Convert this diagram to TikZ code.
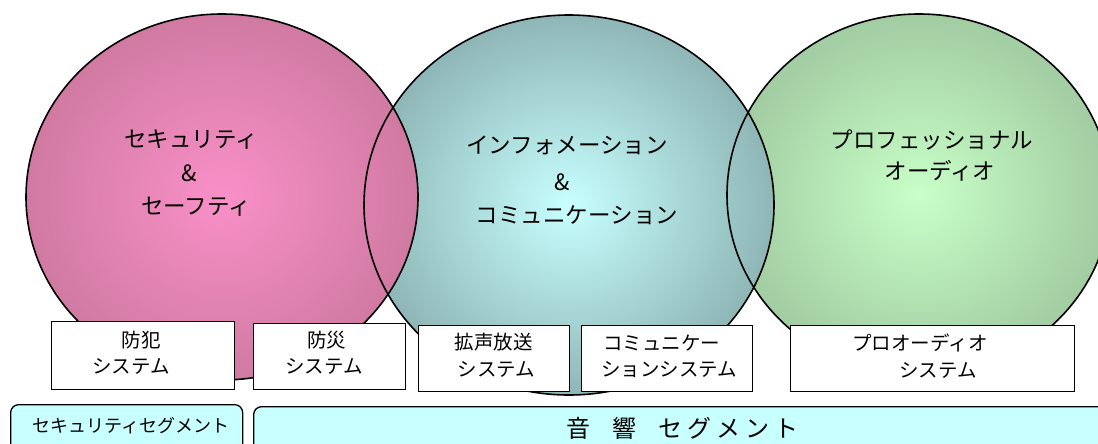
\documentclass[tikz,border=0pt]{standalone}
\usepackage{fontspec}
\setmainfont{Noto Sans CJK JP}
\definecolor{pinkin}{HTML}{F990C8}
\definecolor{pinkout}{HTML}{D07AA2}
\definecolor{tealin}{HTML}{C8FFFF}
\definecolor{tealout}{HTML}{8FB6B6}
\definecolor{greenin}{HTML}{C8FFC8}
\definecolor{greenout}{HTML}{A2CCA2}
\definecolor{segfill}{HTML}{C8FFFF}
\begin{document}
\begin{tikzpicture}[x=1pt,y=-1pt,
  circ/.style={draw=black, line width=1.6pt},
  sysbox/.style={draw=black, line width=1.3pt, fill=white, rectangle, inner sep=0pt, anchor=north west},
  segbar/.style={draw=black, line width=1.3pt, fill=segfill, rectangle, rounded corners=8pt, inner sep=0pt, anchor=north west},
  title/.style={font=\fontsize{22.5}{27}\selectfont, anchor=base, inner sep=0pt},
  boxtxt/.style={font=\fontsize{19.5}{23}\selectfont, anchor=base, inner sep=0pt},
  segtxt/.style={font=\fontsize{18}{22}\selectfont, anchor=base, inner sep=0pt}]
\useasboundingbox (0,0) rectangle (1098,444);
\clip (0,0) rectangle (1098,444);
\fill[white] (0,0) rectangle (1098,444);
% circle fills
\shade[inner color=greenin, outer color=greenout] (919,195) ellipse [x radius=192, y radius=181];
\shade[inner color=tealin, outer color=tealout] (569,205) ellipse [x radius=205, y radius=190];
\shade[inner color=pinkin, outer color=pinkout] (222,197) ellipse [x radius=196, y radius=183];
% circle outlines
\draw[circ] (919,195) ellipse [x radius=192, y radius=181];
\draw[circ] (569,205) ellipse [x radius=205, y radius=190];
\draw[circ] (222,197) ellipse [x radius=196, y radius=183];
% titles
\node[title] (p1) at (191,147.5) {セキュリティ};
\node[title] (p2) at (189,181) {\&};
\node[title] (p3) at (196,214.5) {セーフティ};
\node[title] (t1) at (567,153.5) {インフォメーション};
\node[title] (t2) at (562,190) {\&};
\node[title] (t3) at (577,223.5) {コミュニケーション};
\node[title] (g1) at (932,148.5) {プロフェッショナル};
\node[title] (g2) at (940,179.5) {オーディオ};
% system boxes
\node[sysbox, minimum width=183pt, minimum height=68pt] (b1) at (51,321) {};
\node[sysbox, minimum width=152pt, minimum height=66pt] (b2) at (253,323) {};
\node[sysbox, minimum width=151pt, minimum height=66pt] (b3) at (418,325) {};
\node[sysbox, minimum width=171pt, minimum height=66pt] (b4) at (581,325) {};
\node[sysbox, minimum width=284pt, minimum height=66pt] (b5) at (790,325) {};
\node[boxtxt] (b1a) at (141,347) {防犯};
\node[boxtxt] (b1b) at (131,373) {システム};
\node[boxtxt] (b2a) at (326.5,347) {防災};
\node[boxtxt] (b2b) at (324,373) {システム};
\node[boxtxt] (b3a) at (493.5,349.5) {拡声放送};
\node[boxtxt] (b3b) at (496.5,376) {システム};
\node[boxtxt, anchor=base west] (b4a) at (603,350) {コミュニケー};
\node[boxtxt, anchor=base west] (b4b) at (601,376) {ションシステム};
\node[boxtxt] (b5a) at (920,350) {プロオーディオ};
\node[boxtxt] (b5b) at (938,377) {システム};
% segment bars
\node[segbar, minimum width=232pt, minimum height=70pt] (s1) at (10,404) {};
\node[segbar, minimum width=870pt, minimum height=70pt] (s2) at (253,406) {};
\node[segtxt] (s1t) at (131,432) {セキュリティセグメント};
\node[anchor=base west, inner sep=0pt, font=\fontsize{24}{28}\selectfont] (s2t) at (566,437) {音\hspace{22pt}響\hspace{22pt}セ\hspace{5pt}グ\hspace{5pt}メ\hspace{5pt}ン\hspace{5pt}ト};
\end{tikzpicture}
\end{document}
